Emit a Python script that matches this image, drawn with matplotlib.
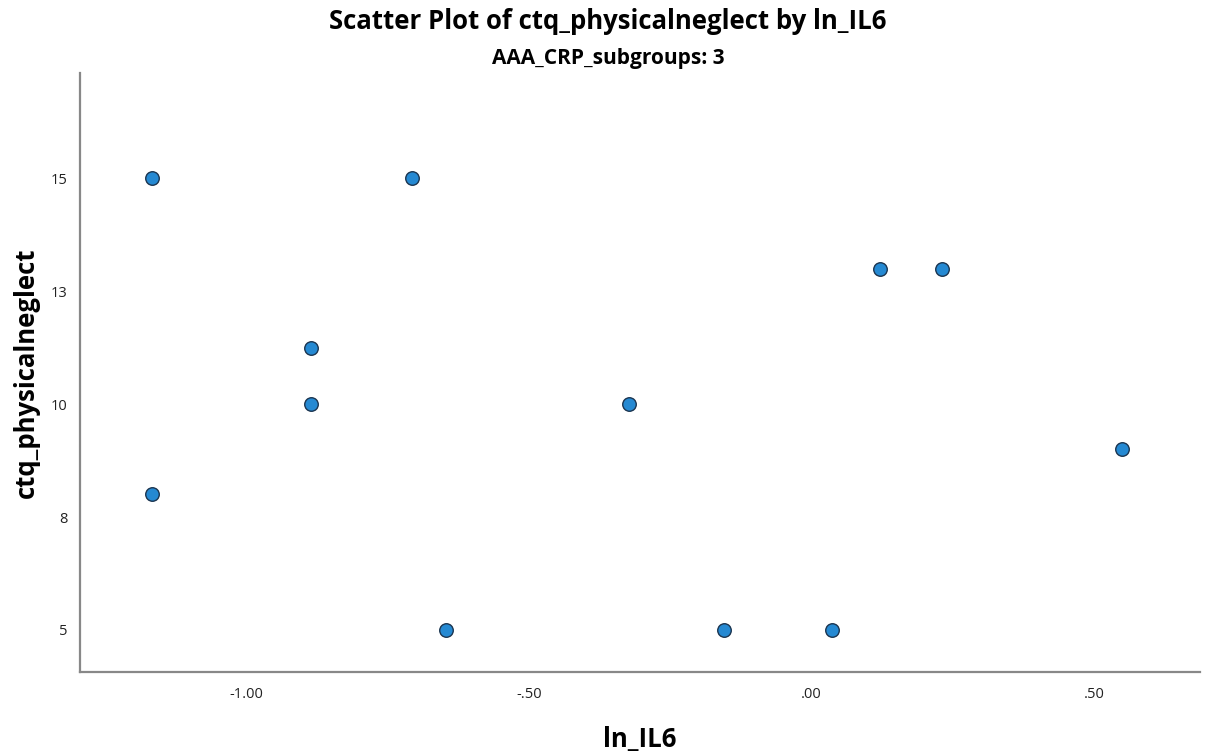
import matplotlib
matplotlib.use("Agg")
import matplotlib.pyplot as plt

plt.rcParams["font.family"] = ["Open Sans", "DejaVu Sans"]

# ln_IL6 vs ctq_physicalneglect, subgroup 3
ln_il6 = [-1.165, -0.707, -0.885, -0.885, -0.323, -0.647, -0.155, 0.035, 0.120, 0.230, 0.548, -1.165]
ctq_pn = [15, 15, 11.25, 10, 10, 5, 5, 5, 13, 13, 9, 8]

x_ticks = [-1.0, -0.5, 0.0, 0.5]
x_tick_labels = ["-1.00", "-.50", ".00", ".50"]
y_ticks = [5, 7.5, 10, 12.5, 15]
y_tick_labels = ["5", "8", "10", "13", "15"]

fig = plt.figure(figsize=(12.16, 7.54), dpi=100)
ax = fig.add_axes([0.0658, 0.1088, 0.9210, 0.7944])

ax.scatter(ln_il6, ctq_pn, s=95, color="#2589d2", edgecolor="#1b3550",
           linewidth=1.0, zorder=3)

ax.set_xlim(-1.293, 0.686)
ax.set_ylim(4.07, 17.33)

ax.set_xticks(x_ticks)
ax.set_xticklabels(x_tick_labels)
ax.set_yticks(y_ticks)
ax.set_yticklabels(y_tick_labels)
ax.tick_params(length=0, labelsize=10.5, colors="#222222")
ax.tick_params(axis="x", pad=11)
ax.tick_params(axis="y", pad=9)

for side in ["top", "right"]:
    ax.spines[side].set_visible(False)
for side in ["left", "bottom"]:
    ax.spines[side].set_color("#888888")
    ax.spines[side].set_linewidth(1.6)

ax.set_xlabel("ln_IL6", fontsize=18.5, fontweight="bold", labelpad=17)
ax.set_ylabel("ctq_physicalneglect", fontsize=18.5, fontweight="bold", labelpad=8)

fig.text(0.5, 0.990, "Scatter Plot of ctq_physicalneglect by ln_IL6",
         ha="center", va="top", fontsize=18.5, fontweight="bold")
fig.text(0.5, 0.922, "AAA_CRP_subgroups: 3",
         ha="center", va="center", fontsize=15, fontweight="bold")

fig.savefig("out.png", dpi=100)
